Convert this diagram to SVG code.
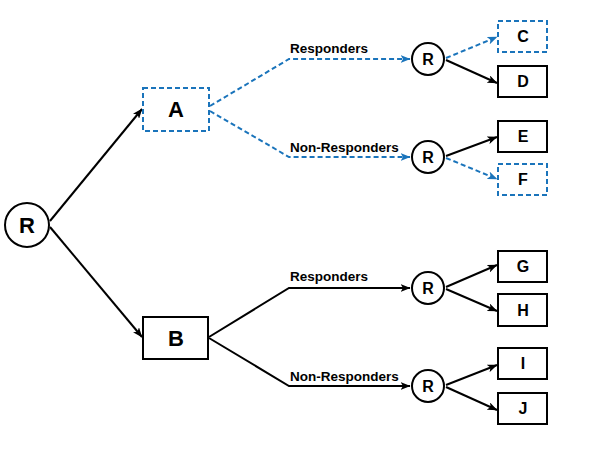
<svg xmlns="http://www.w3.org/2000/svg" width="600" height="450" viewBox="0 0 600 450">
<defs>
<marker id="ah" viewBox="0 0 10 8" refX="9.5" refY="4" markerWidth="10" markerHeight="8" markerUnits="userSpaceOnUse" orient="auto">
<path d="M0,0 L10,4 L0,8 L2.5,4 z" fill="#000"/>
</marker>
<marker id="ahb" viewBox="0 0 10 8" refX="9.5" refY="4" markerWidth="10" markerHeight="8" markerUnits="userSpaceOnUse" orient="auto">
<path d="M0,0 L10,4 L0,8 L2.5,4 z" fill="#1a74bb"/>
</marker>
</defs>
<style>
.box{fill:#fff;stroke:#000;stroke-width:2}
.dbox{fill:#fff;stroke:#1a74bb;stroke-width:2;stroke-dasharray:5,3}
.circ{fill:#fff;stroke:#000;stroke-width:2}
.ln{fill:none;stroke:#000;stroke-width:2}
.dln{fill:none;stroke:#1a74bb;stroke-width:2;stroke-dasharray:5,3}
text{font-family:"Liberation Sans",Arial,sans-serif;font-weight:bold;fill:#000}
.big{font-size:22px;text-anchor:middle}
.mid{font-size:16px;text-anchor:middle}
.lbl{font-size:13.5px}
</style>
<g id="connectors">
<line class="ln" x1="50" y1="221" x2="142" y2="109" marker-end="url(#ah)"/>
<line class="ln" x1="50" y1="227" x2="142" y2="337" marker-end="url(#ah)"/>
<polyline class="dln" points="210,106 289,59 410,59" marker-end="url(#ahb)"/>
<polyline class="dln" points="210,111 289,157 410,157" marker-end="url(#ahb)"/>
<line class="dln" x1="446" y1="58" x2="497" y2="37" marker-end="url(#ahb)"/>
<line class="ln" x1="446" y1="60" x2="497" y2="83" marker-end="url(#ah)"/>
<line class="ln" x1="446" y1="156" x2="497" y2="137" marker-end="url(#ah)"/>
<line class="dln" x1="446" y1="158" x2="497" y2="179" marker-end="url(#ahb)"/>
<polyline class="ln" points="209,337 289,288 410,288" marker-end="url(#ah)"/>
<polyline class="ln" points="209,338 289,386 410,386" marker-end="url(#ah)"/>
<line class="ln" x1="446" y1="287" x2="497" y2="265" marker-end="url(#ah)"/>
<line class="ln" x1="446" y1="289" x2="497" y2="311" marker-end="url(#ah)"/>
<line class="ln" x1="446" y1="385" x2="497" y2="365" marker-end="url(#ah)"/>
<line class="ln" x1="446" y1="387" x2="497" y2="410" marker-end="url(#ah)"/>
<text class="lbl" x="290" y="53">Responders</text>
<text class="lbl" x="290" y="152">Non-Responders</text>
<text class="lbl" x="290" y="281">Responders</text>
<text class="lbl" x="290" y="381">Non-Responders</text>
</g>
<g id="R0"><circle class="circ" cx="27" cy="225" r="22"/><text class="big" x="27" y="233">R</text></g>
<g id="A"><rect class="dbox" x="143" y="88" width="66" height="43"/><text class="big" x="176" y="117">A</text></g>
<g id="B"><rect class="box" x="143" y="317" width="65" height="42"/><text class="big" x="176" y="346">B</text></g>
<g id="R1"><circle class="circ" cx="428" cy="59" r="16"/><text class="mid" x="428" y="65">R</text></g>
<g id="R2"><circle class="circ" cx="428" cy="157" r="16"/><text class="mid" x="428" y="163">R</text></g>
<g id="R3"><circle class="circ" cx="428" cy="288" r="16"/><text class="mid" x="428" y="294">R</text></g>
<g id="R4"><circle class="circ" cx="428" cy="386" r="16"/><text class="mid" x="428" y="392">R</text></g>
<g id="C"><rect class="dbox" x="498" y="21" width="49" height="31"/><text class="mid" x="523" y="42">C</text></g>
<g id="D"><rect class="box" x="498" y="66" width="49" height="31"/><text class="mid" x="523" y="87">D</text></g>
<g id="E"><rect class="box" x="498" y="121" width="49" height="31"/><text class="mid" x="523" y="142">E</text></g>
<g id="F"><rect class="dbox" x="498" y="164" width="49" height="31"/><text class="mid" x="523" y="185">F</text></g>
<g id="G"><rect class="box" x="498" y="251" width="49" height="31"/><text class="mid" x="523" y="272">G</text></g>
<g id="H"><rect class="box" x="498" y="294" width="49" height="32"/><text class="mid" x="523" y="316">H</text></g>
<g id="I"><rect class="box" x="498" y="348" width="49" height="31"/><text class="mid" x="523" y="369">I</text></g>
<g id="J"><rect class="box" x="498" y="393" width="49" height="31"/><text class="mid" x="523" y="414">J</text></g>
</svg>
